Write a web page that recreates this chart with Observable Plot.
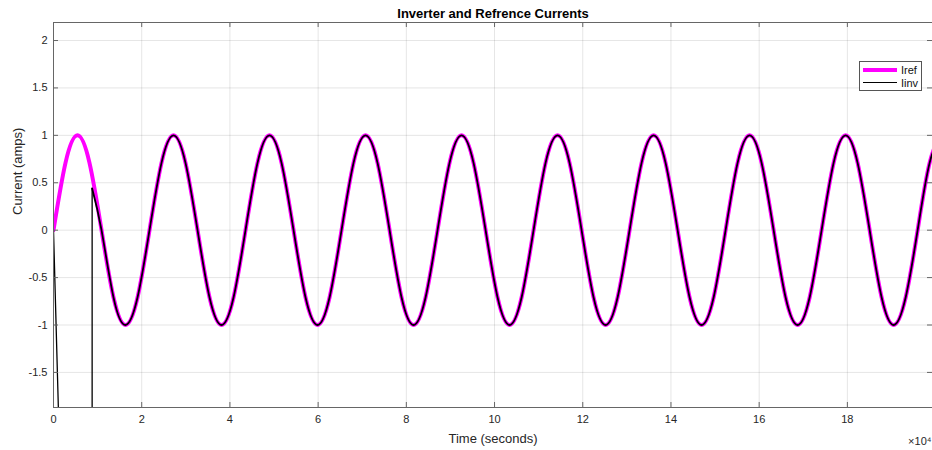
<!DOCTYPE html>
<html>
<head>
<meta charset="utf-8">
<script src="https://cdn.jsdelivr.net/npm/d3@7"></script>
<script src="https://cdn.jsdelivr.net/npm/@observablehq/plot@0.6"></script>
<style>
  html, body { margin: 0; padding: 0; background: #fff; }
  #wrap { position: relative; width: 932px; height: 450px; font-family: "Liberation Sans", Arial, sans-serif; }
  #legend { position: absolute; left: 859px; top: 61px; width: 61px; height: 28px; border: 1px solid #555; background: #fff; font-size: 11px; color: #111; }
  .row { position: absolute; left: 3px; height: 13px; display: flex; align-items: center; }
  .sw { width: 34px; margin-right: 4px; }
</style>
</head>
<body>
<div id="wrap"></div>
<script>
// ---- data, time in units of 1e4 s ----
const tRef = [0,0.272,0.544,0.816,1.089,1.361,1.633,1.905,
  2.177,2.449,2.721,2.993,3.266,3.538,3.810,4.082,
  4.354,4.626,4.898,5.170,5.443,5.715,5.987,6.259,
  6.531,6.803,7.075,7.347,7.620,7.892,8.164,8.436,
  8.708,8.980,9.252,9.524,9.797,10.069,10.341,10.613,
  10.885,11.157,11.429,11.701,11.974,12.246,12.518,12.790,
  13.062,13.334,13.606,13.878,14.151,14.423,14.695,14.967,
  15.239,15.511,15.783,16.055,16.328,16.600,16.872,17.144,
  17.416,17.688,17.960,18.232,18.505,18.777,19.049,19.321,
  19.593,19.865,20.137];
const iRef = [0,0.71,1,0.71,0,-0.71,-1,-0.71,
  0,0.71,1,0.71,0,-0.71,-1,-0.71,
  0,0.71,1,0.71,0,-0.71,-1,-0.71,
  0,0.71,1,0.71,0,-0.71,-1,-0.71,
  0,0.71,1,0.71,0,-0.71,-1,-0.71,
  0,0.71,1,0.71,0,-0.71,-1,-0.71,
  0,0.71,1,0.71,0,-0.71,-1,-0.71,
  0,0.71,1,0.71,0,-0.71,-1,-0.71,
  0,0.71,1,0.71,0,-0.71,-1,-0.71,
  0,0.71,1];
// inverter current: start-up transient, then tracking
const tInvStart = [0, 0.2, 0.876, 0.876];
const iInvStart = [0, -3.4, -3.4, 0.44];
const tInv = [0.876].concat(tRef.slice(4));
const iInv = [0.44].concat(iRef.slice(4));

const xTicks = [0,2,4,6,8,10,12,14,16,18];
const yTicks = [-1.5,-1,-0.5,0,0.5,1,1.5,2];
const title = "Inverter and Refrence Currents";
const xLabel = "Time (seconds)";
const yLabel = "Current (amps)";
const xExp = "×10⁴";

const ref = tRef.map((t, i) => ({t, v: iRef[i]}));
const invA = tInvStart.map((t, i) => ({t, v: iInvStart[i]}));
const invB = tInv.map((t, i) => ({t, v: iInv[i]}));

const W = 932, H = 450, mT = 22, mB = 43, mL = 53, mR = 0;
const pw = W - mL - mR, ph = H - mT - mB;
const axisColor = "#666";

const chart = Plot.plot({
  width: W, height: H,
  marginTop: mT, marginBottom: mB, marginLeft: mL, marginRight: mR,
  style: {fontFamily: "'Liberation Sans', Arial, sans-serif", fontSize: "11px", color: "#262626", background: "#fff"},
  x: {domain: [0, 19.93], label: null},
  y: {domain: [-1.87, 2.19], label: null},
  marks: [
    Plot.gridX(xTicks, {stroke: "#000", strokeOpacity: 0.1}),
    Plot.gridY(yTicks, {stroke: "#000", strokeOpacity: 0.1}),
    Plot.line(ref, {x: "t", y: "v", stroke: "#ff00ff", strokeWidth: 4, curve: "natural", clip: true}),
    Plot.line(invA, {x: "t", y: "v", stroke: "#000", strokeWidth: 1.3, clip: true}),
    Plot.line(invB, {x: "t", y: "v", stroke: "#000", strokeWidth: 1.8, curve: "natural", clip: true}),
    Plot.frame({stroke: axisColor}),
    Plot.tickX(xTicks, {x: d => d, stroke: axisColor, insetTop: ph - 5}),
    Plot.tickX(xTicks, {x: d => d, stroke: axisColor, insetBottom: ph - 5}),
    Plot.tickY(yTicks, {y: d => d, stroke: axisColor, insetRight: pw - 5}),
    Plot.tickY(yTicks, {y: d => d, stroke: axisColor, insetLeft: pw - 5}),
    Plot.axisX(xTicks, {tickSize: 0, tickPadding: 8, tickFormat: d => String(d), label: null}),
    Plot.axisY(yTicks, {tickSize: 0, tickPadding: 6, tickFormat: d => String(d), label: null}),
    Plot.text([title], {frameAnchor: "top", lineAnchor: "middle", dy: -9, fontWeight: "bold", fontSize: 13, fill: "#000"}),
    Plot.text([xLabel], {frameAnchor: "bottom", lineAnchor: "middle", dy: 31, fontSize: 13, fill: "#262626"}),
    Plot.text([yLabel], {frameAnchor: "left", dx: -36, rotate: -90, fontSize: 13, fill: "#262626"}),
    Plot.text([xExp], {frameAnchor: "bottom-right", lineAnchor: "middle", dy: 34, dx: -1, textAnchor: "end", fontSize: 11, fill: "#262626"})
  ]
});
const wrap = document.getElementById("wrap");
wrap.appendChild(chart);

const legend = document.createElement("div");
legend.id = "legend";
legend.innerHTML =
  '<div class="row" style="top:1px"><div class="sw" style="height:4px;background:#ff00ff"></div><span>Iref</span></div>' +
  '<div class="row" style="top:14px"><div class="sw" style="height:1.3px;background:#000"></div><span>Iinv</span></div>';
wrap.appendChild(legend);
</script>
</body>
</html>
